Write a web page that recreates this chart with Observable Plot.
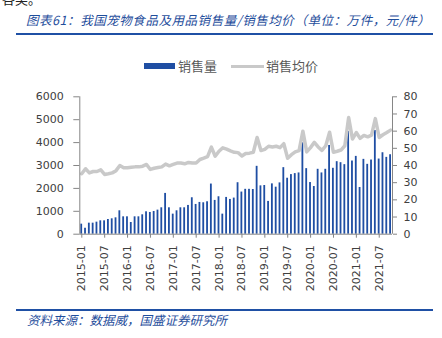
<!DOCTYPE html>
<html>
<head>
<meta charset="utf-8">
<script src="https://cdn.jsdelivr.net/npm/d3@7"></script>
<script src="https://cdn.jsdelivr.net/npm/@observablehq/plot@0.6"></script>
<style>
  html, body { margin: 0; padding: 0; background: #fff; }
  body { width: 442px; height: 338px; position: relative; overflow: hidden; font-family: "Noto Sans CJK SC", sans-serif; }
  .abs { position: absolute; white-space: nowrap; }
  #title { left: 26px; top: 11px; font-size: 12.5px; line-height: 18px; color: #1f4e9c; font-style: italic; letter-spacing: 0.55px; }
  #topcut { left: 2px; top: -9px; font-size: 13px; line-height: 16px; color: #222; }
  .rule { position: absolute; left: 16px; width: 417px; height: 2px; background: #1f50a5; }
  #footer { left: 27px; top: 311px; font-size: 12.5px; line-height: 18px; color: #1f4e9c; font-style: italic; }
  .leg { font-size: 13px; line-height: 16px; color: #595959; top: 58px; }
  #chart { position: absolute; left: 0; top: 0; }
</style>
</head>
<body>
<div id="topcut" class="abs">各类。</div>
<div id="title" class="abs">图表61：我国宠物食品及用品销售量/销售均价（单位：万件，元/件）</div>
<div class="rule" style="top:33px"></div>
<div class="abs" style="left:144px;top:63px;width:31px;height:6px;background:#1f4ea3"></div>
<div class="abs leg" style="left:178px">销售量</div>
<div class="abs" style="left:231px;top:64.5px;width:33px;height:3.5px;background:#c9c9c9"></div>
<div class="abs leg" style="left:266px">销售均价</div>
<div id="chart"></div>
<div class="rule" style="top:309px"></div>
<div id="footer" class="abs">资料来源：数据威，国盛证券研究所</div>
<script>
// Month categories 2015-01 .. 2021-10
const months = [];
for (let y = 2015; y <= 2021; y++) {
  for (let m = 1; m <= 12; m++) {
    if (y === 2021 && m > 10) break;
    months.push(`${y}-${String(m).padStart(2, "0")}`);
  }
}
// 销售量 (万件), left axis
const sales = [
  438, 260, 482, 482, 526, 584, 584, 642, 672, 715, 1022, 759,
  759, 511, 759, 759, 847, 978, 949, 993, 1051, 1153, 1781, 1153,
  876, 1022, 1153, 1153, 1256, 1591, 1299, 1387, 1372, 1416, 2190, 1475,
  1635, 876, 1606, 1518, 1577, 2248, 1840, 1960, 1960, 1952, 2964, 2111,
  2126, 1432, 2198, 2053, 2241, 2906, 2444, 2603, 2646, 2675, 3991, 2863,
  2256, 2082, 2834, 2675, 2834, 3875, 2878, 3167, 3123, 3037, 4483, 3196,
  3398, 2039, 3268, 3051, 3239, 4526, 3282, 3557, 3355, 3470
];
// 销售均价 (元/件), right axis
const price = [
  35.2, 38.1, 35.7, 36.5, 36.5, 37.5, 34.8, 35.2, 35.7, 37.0, 40.0, 38.7,
  38.7, 39.0, 39.2, 39.2, 39.6, 40.6, 37.7, 38.4, 38.8, 39.2, 40.8, 39.8,
  40.6, 41.4, 41.4, 41.0, 41.8, 41.4, 41.4, 43.5, 44.3, 45.2, 50.7, 45.4,
  48.3, 50.3, 49.5, 48.5, 47.7, 47.5, 45.5, 47.0, 47.2, 47.7, 56.3, 48.7,
  49.4, 51.2, 50.8, 51.2, 50.4, 52.7, 44.2, 46.3, 47.9, 48.7, 60.0, 47.9,
  50.4, 53.5, 50.8, 48.8, 51.5, 59.4, 47.7, 48.3, 49.0, 51.5, 67.9, 55.4,
  59.2, 55.8, 57.5, 56.7, 57.7, 67.3, 56.3, 57.9, 59.2, 60.6
];
const tickLabels = ["2015-01","2015-07","2016-01","2016-07","2017-01","2017-07","2018-01",
  "2018-07","2019-01","2019-07","2020-01","2020-07","2021-01","2021-07"];
const leftTicks = [0, 1000, 2000, 3000, 4000, 5000, 6000];
const rightTicks = [0, 10, 20, 30, 40, 50, 60, 70, 80];

const leftMax = 6000, rightMax = 80, k = leftMax / rightMax;
const data = months.map((m, i) => ({i, month: m, sales: sales[i], price: price[i]}));
const tickIdx = tickLabels.map(t => months.indexOf(t));

const chart = Plot.plot({
  width: 442,
  height: 300,
  marginLeft: 79.3,
  marginRight: 50,
  marginTop: 96.3,
  marginBottom: 66.3,
  style: {fontFamily: "DejaVu Sans", fontSize: "11px", color: "#404040", background: "transparent"},
  x: {type: "linear", domain: [0, months.length]},
  y: {domain: [0, leftMax]},
  marks: [
    Plot.rectY(data, {x1: d => d.i, x2: d => d.i + 1, y: "sales", insetLeft: 1, insetRight: 1, fill: "#1f4ea3"}),
    Plot.line(data, {x: d => d.i + 0.5, y: d => d.price * k, stroke: "#c9c9c9", strokeWidth: 3.5, strokeLinejoin: "round"}),
    Plot.ruleX([0, months.length], {y1: 0, y2: leftMax, stroke: "#868686"}),
    Plot.ruleY([0], {stroke: "#868686"}),
    Plot.axisY({ticks: leftTicks, tickFormat: v => String(v), tickSize: 6, tickPadding: 10, label: null, stroke: "#868686", fill: "#404040"}),
    Plot.axisY({anchor: "right", ticks: rightTicks.map(v => v * k), tickFormat: v => String(Math.round(v / k)), tickSize: 4, tickPadding: 7, label: null, stroke: "#868686", fill: "#404040"}),
    Plot.axisX({ticks: tickIdx, tickFormat: i => months[i], tickRotate: -90, tickSize: 4, tickPadding: 7, dx: 2, label: null, stroke: "#868686", fill: "#404040"})
  ]
});
document.getElementById("chart").appendChild(chart);
</script>
</body>
</html>
